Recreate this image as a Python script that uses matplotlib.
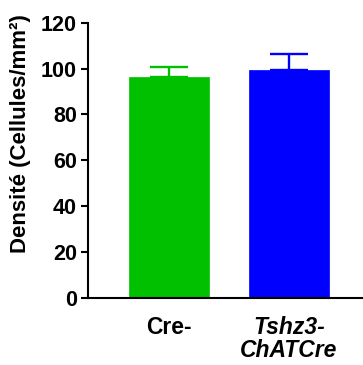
import matplotlib
matplotlib.use("Agg")
import matplotlib.pyplot as plt

groups = ["Cre-", "Tshz3-\nChATCre"]
means = [96.5, 99.5]
errors = [4.0, 6.7]
colors = ["#00C000", "#0000FF"]
yticks = [0, 20, 40, 60, 80, 100, 120]

plt.rcParams["font.family"] = ["Liberation Sans", "DejaVu Sans"]

fig = plt.figure(figsize=(3.63, 3.65), dpi=100)
ax = fig.add_axes([88 / 363, 1 - 297.7 / 365, 1 - 88 / 363, (297.7 - 22.7) / 365])

x = list(range(len(groups)))
ax.bar(x, means, width=0.667, color=colors, edgecolor=colors, linewidth=0.5, zorder=2)
for xi, m, e, c in zip(x, means, errors, colors):
    ax.errorbar(xi, m, yerr=[[0], [e]], fmt="none", ecolor=c, elinewidth=1.7,
                capsize=14, capthick=1.7, zorder=1)

ax.set_ylim(0, 120)
ax.set_xlim(-0.675, 1.617)
ax.set_yticks(yticks)
ax.set_yticklabels([str(v) for v in yticks], fontsize=15.5, fontweight="bold")
ax.set_xticks(x)
labels = ax.set_xticklabels(groups, fontsize=16.5, fontweight="bold", linespacing=1.0)
labels[1].set_fontstyle("italic")
ax.tick_params(axis="y", direction="out", length=5, width=1.5, pad=3)
ax.tick_params(axis="x", length=0, pad=13)

for side in ("top", "right"):
    ax.spines[side].set_visible(False)
for side in ("left", "bottom"):
    ax.spines[side].set_linewidth(1.5)

# y-axis title, placed a little above the axis centre
fig.text(21 / 363, 1 - 134 / 365, "Densité (Cellules/mm²)", rotation=90,
         ha="center", va="center", fontsize=16, fontweight="bold")

fig.savefig("out.png", dpi=100)
